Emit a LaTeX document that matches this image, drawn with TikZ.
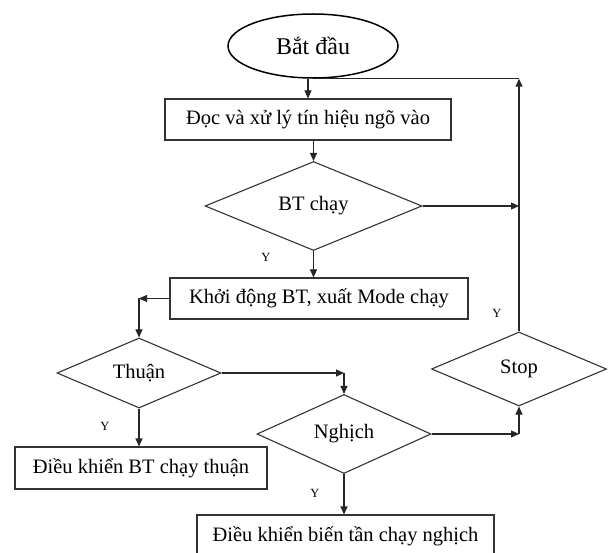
\documentclass[tikz,border=0pt]{standalone}
\usepackage{fontspec}
\setmainfont{Liberation Serif}
\usetikzlibrary{arrows.meta,shapes.geometric,calc}
\newcommand{\figtxt}{\fontsize{20.5}{24}\selectfont}
\newcommand{\figbig}{\fontsize{24}{28}\selectfont}
\newcommand{\figsml}{\fontsize{12.5}{14}\selectfont}
\tikzset{
  >={Triangle[length=8pt,width=7pt]},
  term/.style ={ellipse, draw, line width=1.5pt, inner sep=0pt, font=\figbig},
  proc/.style ={rectangle, draw=black!80, line width=1.1pt, inner sep=0pt, font=\figtxt},
  dec/.style  ={diamond, draw=black!80, line width=1.1pt, inner sep=0pt, font=\figtxt},
  con/.style  ={->, draw=black!85, line width=1.1pt},
  ln/.style   ={draw=black!85, line width=1.1pt},
  lbl/.style  ={font=\figsml, inner sep=0pt},
}
\begin{document}
\begin{tikzpicture}[x=1pt,y=-1pt]
\useasboundingbox (0,0) rectangle (613,553);
\clip (0,0) rectangle (613,553);
\node[term] (start) at (313,46)  [minimum width=170pt, minimum height=64pt] {Bắt đầu};
\node[proc] (read)  at (308,119.5) [minimum width=286pt, minimum height=41pt] {Đọc và xử lý tín hiệu ngõ vào};
\node[dec]  (btrun) at (313.5,206) [minimum width=217pt, minimum height=89pt] {BT chạy};
\node[proc] (run)   at (319,298.5) [minimum width=298pt, minimum height=41pt] {Khởi động BT, xuất Mode chạy};
\node[dec]  (fwd)   at (139,373) [minimum width=164pt, minimum height=69pt] {Thuận};
\node[proc] (fwdbox) at (141,468) [minimum width=252pt, minimum height=42pt] {Điều khiển BT chạy thuận};
\node[dec]  (rev)   at (344,434) [minimum width=174pt, minimum height=74pt] {Nghịch};
\node[proc] (revbox) at (345.5,536) [minimum width=297pt, minimum height=42pt] {Điều khiển biến tần chạy nghịch};
\node[dec]  (stop)  at (519,369) [minimum width=175pt, minimum height=74pt] {Stop};
% bends
\coordinate (loop) at (stop.north |- start.south);
\coordinate (bend) at (fwd.north |- run.west);
\coordinate (kf)   at (rev.north |- fwd.east);
\coordinate (kr)   at (stop.south |- rev.east);
% labels
\node[lbl] (y1) at (266,257) {Y};
\node[lbl] (y2) at (497,313) {Y};
\node[lbl] (y3) at (105,426) {Y};
\node[lbl] (y4) at (315,493) {Y};
% connectors
\draw[con] (start.south -| read.north) -- (read.north);
\draw[con] (read.south -| btrun.north) -- (btrun.north);
\draw[con] (btrun.east) -- (btrun.east -| loop);
\draw[con] (btrun.south) -- (btrun.south |- run.north);
\draw[con] (run.west) -- (bend);
\draw[con] (bend) -- (fwd.north);
\draw[con] (fwd.south) -- (fwd.south |- fwdbox.north);
\draw[con] (fwd.east) -- (kf);
\draw[con] (kf) -- (rev.north);
\draw[con] (rev.south) -- (rev.south |- revbox.north);
\draw[con] (rev.east) -- (kr);
\draw[con] (kr) -- (stop.south);
\draw[con] (stop.north) -- (loop);
\draw[ln]  (loop) -- (start.south);
\end{tikzpicture}
\end{document}
